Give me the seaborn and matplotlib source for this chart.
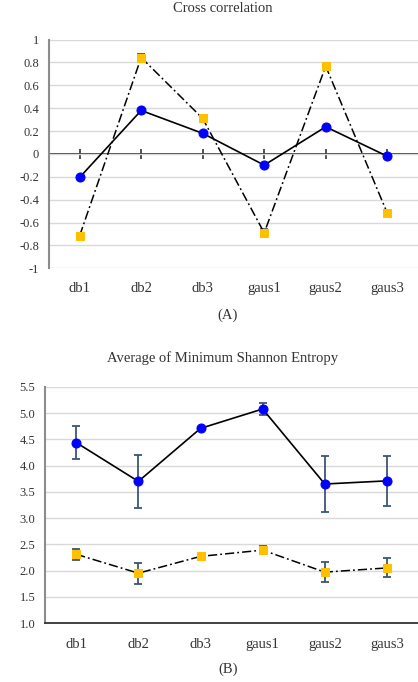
import numpy as np
import pandas as pd
import matplotlib
matplotlib.use("Agg")
import matplotlib.pyplot as plt
import seaborn as sns
from matplotlib.ticker import FuncFormatter

categories = ["db1", "db2", "db3", "gaus1", "gaus2", "gaus3"]

# Panel A: cross correlation
cc_blue = [-0.205, 0.38, 0.18, -0.098, 0.237, -0.02]
cc_orange = [-0.715, 0.843, 0.31, -0.69, 0.767, -0.517]
cc_orange_err = [0.02, 0.03, 0.02, 0.03, 0.02, 0.02]

# Panel B: average of minimum Shannon entropy
se_blue = [4.44, 3.70, 4.71, 5.08, 3.65, 3.71]
se_blue_err = [0.31, 0.50, 0.03, 0.11, 0.54, 0.48]
se_orange = [2.31, 1.95, 2.27, 2.39, 1.97, 2.05]
se_orange_err = [0.11, 0.20, 0.03, 0.08, 0.19, 0.18]

sns.set_theme(style="white")
plt.rcParams["font.family"] = ["Liberation Serif", "DejaVu Serif"]

BLUE = "#0000FF"
ORANGE = "#FFC000"
ERR = "#3B5675"
GRID = "#D9D9D9"
SPINE = "#8C8C8C"
TXT = "#333333"
AX = "#333333"
dashdot = (0, (6, 2, 1.2, 2))

fig = plt.figure(figsize=(4.18, 6.82), dpi=100)
axA = fig.add_axes([0.117, 0.6066, 0.883, 0.3354])
axB = fig.add_axes([0.108, 0.0865, 0.892, 0.3461])

dfA = pd.DataFrame({"cat": categories, "blue": cc_blue, "orange": cc_orange})
dfB = pd.DataFrame({"cat": categories, "blue": se_blue, "orange": se_orange})


def draw(ax, df, berr, oerr):
    sns.lineplot(data=df, x="cat", y="orange", ax=ax, color="black", lw=1.1,
                 linestyle=dashdot, marker="s", markersize=6,
                 markerfacecolor=ORANGE, markeredgecolor=ORANGE, zorder=4)
    sns.lineplot(data=df, x="cat", y="blue", ax=ax, color="black", lw=1.2,
                 marker="o", markersize=6.5,
                 markerfacecolor=BLUE, markeredgecolor=BLUE, zorder=5)
    xs = np.arange(len(df))
    if berr is not None:
        ax.errorbar(xs, df["blue"], yerr=berr, fmt="none", ecolor=ERR,
                    elinewidth=1.3, capsize=3, capthick=1.3, zorder=3)
    if oerr is not None:
        ax.errorbar(xs, df["orange"], yerr=oerr, fmt="none", ecolor=ERR,
                    elinewidth=1.3, capsize=3, capthick=1.3, zorder=3)
    ax.set_xlim(-0.5, 5.5)
    ax.set_xlabel("")
    ax.set_ylabel("")
    ax.grid(axis="y", color=GRID, lw=1)
    ax.set_axisbelow(True)
    for s in ["top", "right"]:
        ax.spines[s].set_visible(False)
    ax.spines["left"].set_color(SPINE)
    ax.spines["left"].set_linewidth(1.5)
    ax.tick_params(axis="y", length=0, labelsize=9, colors=TXT, pad=7)


# Panel A
draw(axA, dfA, None, cc_orange_err)
axA.set_ylim(-1, 1)
axA.set_yticks(np.arange(-1, 1.01, 0.2))
axA.yaxis.set_major_formatter(
    FuncFormatter(lambda v, p: f"{round(v, 1) + 0.0:g}"))
axA.spines["bottom"].set_visible(False)
axA.tick_params(axis="x", length=0, labelsize=10.5, colors=TXT, pad=10)
sec = axA.secondary_xaxis(0.5)
sec.set_xticks(range(len(categories)))
sec.tick_params(axis="x", direction="inout", length=7, width=1.2, color=AX,
                labelbottom=False, labeltop=False)
sec.spines["bottom"].set_color(AX)
sec.spines["bottom"].set_linewidth(1.3)

# Panel B
draw(axB, dfB, se_blue_err, se_orange_err)
axB.set_ylim(1.0, 5.5)
axB.set_yticks(np.arange(1.0, 5.51, 0.5))
axB.yaxis.set_major_formatter(FuncFormatter(lambda v, p: f"{v:.1f}"))
axB.spines["bottom"].set_color(AX)
axB.spines["bottom"].set_linewidth(1.3)
axB.tick_params(axis="x", direction="inout", length=7, width=1.2, color=AX,
                labelsize=10.5, labelcolor=TXT, pad=7)

fig.text(0.533, 0.987, "Cross correlation", ha="center", va="center",
         fontsize=10.5, color=TXT)
fig.text(0.545, 0.538, "(A)", ha="center", va="center", fontsize=10.5, color=TXT)
fig.text(0.533, 0.475, "Average of Minimum Shannon Entropy", ha="center",
         va="center", fontsize=10.5, color=TXT)
fig.text(0.545, 0.019, "(B)", ha="center", va="center", fontsize=10.5, color=TXT)

fig.savefig("out.png", dpi=100, facecolor="white")
